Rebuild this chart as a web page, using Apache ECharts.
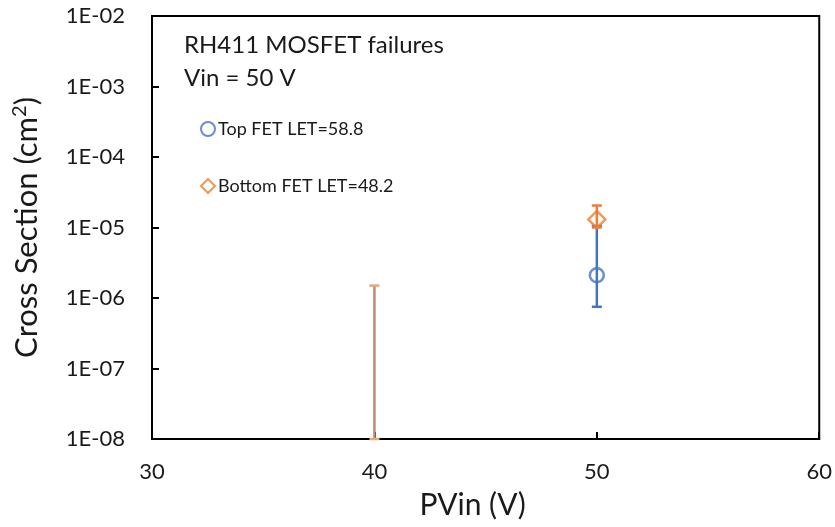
<!DOCTYPE html>
<html><head><meta charset="utf-8">
<script src="https://cdn.jsdelivr.net/npm/echarts@6/dist/echarts.min.js"></script>
<style>html,body{margin:0;padding:0;background:#fff}#c{width:835px;height:527px}</style>
</head><body><div id="c"></div>
<script>
// ---- data ----
const xTicks = [30, 40, 50, 60];
const yTickLabels = ['1E-08','1E-07','1E-06','1E-05','1E-04','1E-03','1E-02'];
const topFetX = [50];
const topFetY = [2.1e-6];
const topFetLow = [7.5e-7];
const topFetHigh = [1.05e-5];
const botFetX = [50];
const botFetY = [1.3e-5];
const botFetLow = [1.0e-5];
const botFetHigh = [2.05e-5];
const v40X = [40];
const v40Low = [1e-8];
const v40High = [1.5e-6];

const FONT = 'Lato';
const BLUE = '#4472C4', ORANGE = '#ED7D31';
const TXT = '#1a1a1a';

function errItem(color, capColor) {
  return function (params, api) {
    const x = api.value(0), lo = api.value(1), hi = api.value(2);
    const pLo = api.coord([x, lo]), pHi = api.coord([x, hi]);
    const cw = 5;
    const st = {stroke: color, lineWidth: 2.5};
    const cst = {stroke: capColor || color, lineWidth: 2.5};
    return {type: 'group', children: [
      {type: 'line', shape: {x1: pLo[0], y1: pLo[1], x2: pHi[0], y2: pHi[1]}, style: st},
      {type: 'line', shape: {x1: pHi[0]-cw, y1: pHi[1], x2: pHi[0]+cw, y2: pHi[1]}, style: cst},
      {type: 'line', shape: {x1: pLo[0]-cw, y1: pLo[1], x2: pLo[0]+cw, y2: pLo[1]}, style: cst}
    ]};
  };
}

const chart = echarts.init(document.getElementById('c'));
chart.setOption({
  animation: false,
  textStyle: {fontFamily: FONT},
  grid: {left: 152, right: 15, top: 16, bottom: 88, show: true, borderColor: '#000', borderWidth: 2, backgroundColor: 'transparent'},
  title: {
    text: 'RH411 MOSFET failures\nVin = 50 V', left: 179, top: 24,
    textStyle: {fontFamily: FONT, fontSize: 24, fontWeight: 'normal', color: TXT, lineHeight: 33}
  },
  legend: {
    orient: 'vertical', left: 195, top: 115, itemGap: 39, itemWidth: 14, itemHeight: 14,
    textStyle: {fontFamily: FONT, fontSize: 18, color: TXT, padding: [0,0,0,-2]},
    data: ['Top FET LET=58.8', 'Bottom FET LET=48.2']
  },
  xAxis: {
    type: 'value', min: 30, max: 60, interval: 10,
    name: 'PVin (V)', nameLocation: 'middle', nameGap: 51,
    nameTextStyle: {fontFamily: FONT, fontSize: 30, color: TXT, padding: [0, 26, 0, 0]},
    axisLine: {lineStyle: {color: '#000', width: 2}},
    axisTick: {inside: true, length: 7, lineStyle: {color: '#000', width: 2}},
    axisLabel: {fontFamily: FONT, fontSize: 22, color: TXT, margin: 22},
    splitLine: {show: false}
  },
  yAxis: {
    type: 'log', logBase: 10, min: 1e-8, max: 1e-2,
    name: 'Cross Section (cm{sup|2})', nameLocation: 'middle', nameGap: 108,
    nameTextStyle: {fontFamily: FONT, fontSize: 31, color: TXT,
      rich: {sup: {fontFamily: FONT, fontSize: 20, color: TXT, padding: [0, 0, 14, 0]}}},
    axisLine: {lineStyle: {color: '#000', width: 2}},
    axisTick: {inside: true, length: 7, lineStyle: {color: '#000', width: 2}},
    axisLabel: {fontFamily: FONT, fontSize: 22, color: TXT, margin: 27,
      formatter: function (v) { const e = Math.round(Math.log10(v)); return yTickLabels[e + 8]; }},
    splitLine: {show: false}, minorTick: {show: false}
  },
  series: [
    {type: 'custom', name: 'v40err', renderItem: errItem('#bb8a78', '#e8a878'), z: 2,
      data: v40X.map((x, i) => [x, v40Low[i], v40High[i]])},
    {type: 'custom', name: 'topErr', renderItem: errItem(BLUE), z: 2,
      data: topFetX.map((x, i) => [x, topFetLow[i], topFetHigh[i]])},
    {type: 'custom', name: 'botErr', renderItem: errItem(ORANGE), z: 3,
      data: botFetX.map((x, i) => [x, botFetLow[i], botFetHigh[i]])},
    {type: 'scatter', name: 'Top FET LET=58.8', symbol: 'circle', symbolSize: 14, z: 4,
      itemStyle: {color: 'rgba(255,255,255,0)', borderColor: BLUE, borderWidth: 2.5},
      data: topFetX.map((x, i) => [x, topFetY[i]])},
    {type: 'scatter', name: 'Bottom FET LET=48.2', symbol: 'diamond', symbolSize: 17, z: 5,
      itemStyle: {color: 'rgba(255,255,255,0)', borderColor: ORANGE, borderWidth: 2.5},
      data: botFetX.map((x, i) => [x, botFetY[i]])}
  ]
});
</script></body></html>
